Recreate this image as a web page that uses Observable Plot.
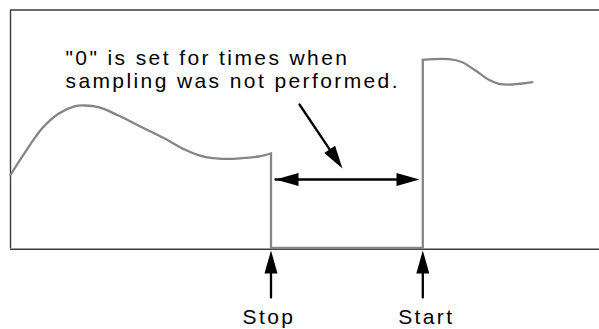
<!DOCTYPE html>
<html>
<head>
<meta charset="utf-8">
<script src="https://cdn.jsdelivr.net/npm/d3@7"></script>
<script src="https://cdn.jsdelivr.net/npm/@observablehq/plot@0.6"></script>
<style>
  html, body { margin: 0; padding: 0; background: #fff; }
  #chart svg { display: block; }
</style>
</head>
<body>
<div id="chart"></div>
<script>
// ---- data (time in arbitrary units, value in arbitrary units) ----
const time  = [0, 1.47, 3.13, 4.8, 6.47, 7.47, 8.8, 10.8, 13.13, 15.47, 17.47, 19.13, 21.13, 23.13, 24.8, 26.05,
               26.05, 41.23,
               41.23, 43.83, 45.17, 46.5, 47.83, 48.83, 50.17, 52.17];
const value = [36.5, 47.9, 59.6, 67.1, 70.9, 71.25, 70.4, 66.25, 60.4, 54.6, 49.1, 45.9, 44.6, 44.9, 45.75, 47.25,
               0, 0,
               94.1, 94.4, 92.9, 88.75, 84.1, 82.1, 81.75, 82.9];
const stopTime = 26.05;
const startTime = 41.23;

const noteLines = ['"0" is set for times when', 'sampling was not performed.'];
const eventLabels = ["Stop", "Start"];
const eventTimes = [stopTime, startTime];

// annotation arrows (tail -> tip), in data units
const arrowX1 = [28.9, 26.5, 40.9, stopTime, startTime];
const arrowY1 = [71.75, 34.25, 34.25, -24.75, -24.75];
const arrowX2 = [33.2, 40.9, 26.5, stopTime, startTime];
const arrowY2 = [39.75, 34.25, 34.25, -1.25, -1.25];

const frameTop = 119;

// ---- build tables ----
const series = time.map((t, i) => ({t, v: value[i]}));
const before = series.filter(d => d.t <= stopTime && d.v > 0);
const after = series.filter(d => d.t >= startTime && d.v > 0);
const gap = series.filter(d => d.t >= stopTime && d.t <= startTime);

const xScale = {domain: [0, 58.9], range: [10, 599]};
const yScale = {domain: [0, frameTop], range: [247.5, 9.5]};
const sx = d3.scaleLinear().domain(xScale.domain).range(xScale.range);
const sy = d3.scaleLinear().domain(yScale.domain).range(yScale.range);

const arrows = arrowX1.map((x1, i) => ({x1, y1: arrowY1[i], x2: arrowX2[i], y2: arrowY2[i]}));
// shafts: the double arrow is drawn once (index 1), index 2 only supplies its second head
const shafts = arrows.filter((d, i) => i !== 2);
const heads = arrows.map(d => ({
  x: d.x2, y: d.y2,
  angle: Math.atan2(sx(d.x2) - sx(d.x1), -(sy(d.y2) - sy(d.y1))) * 180 / Math.PI
}));

const headSymbol = {
  draw(context) {
    const L = 23, W = 6.5;
    context.moveTo(0, 0);
    context.lineTo(-W, L);
    context.lineTo(W, L);
    context.closePath();
  }
};

const font = "'Liberation Sans', Arial, Helvetica, sans-serif";
const lineColor = "#858585";

const chart = Plot.plot({
  width: 599,
  height: 329,
  margin: 0,
  x: {...xScale, axis: null},
  y: {...yScale, axis: null},
  style: {background: "#fff", fontFamily: font, overflow: "visible", letterSpacing: "2.4px"},
  marks: [
    // frame
    Plot.ruleX([0], {y1: 0, y2: frameTop, stroke: "#3a3a3a", strokeWidth: 1.4, dy: 0.75}),
    Plot.ruleY([frameTop], {x1: 0, x2: 58.9, stroke: "#3a3a3a", strokeWidth: 1.4}),
    Plot.ruleY([0], {x1: 0, x2: 58.9, stroke: "#3a3a3a", strokeWidth: 1.4, dy: 1.2}),
    // data series
    Plot.line(before, {x: "t", y: "v", stroke: lineColor, strokeWidth: 2.3, curve: "catmull-rom"}),
    Plot.line(gap, {x: "t", y: "v", stroke: lineColor, strokeWidth: 2.3, curve: "linear", strokeLinejoin: "miter"}),
    Plot.line(after, {x: "t", y: "v", stroke: lineColor, strokeWidth: 2.3, curve: "catmull-rom"}),
    // annotation arrows
    Plot.arrow(shafts, {x1: "x1", y1: "y1", x2: "x2", y2: "y2", stroke: "#000", strokeWidth: 2.3,
      headLength: 0, insetEnd: 8, insetStart: 0}),
    Plot.dot(heads, {x: "x", y: "y", rotate: "angle", symbol: headSymbol, fill: "#000", stroke: "none", r: 5}),
    // texts
    Plot.text([noteLines.join("\n")], {x: 5.5, y: 80.25, text: d => d, textAnchor: "start", lineAnchor: "bottom",
      lineHeight: 1.05, fontSize: 21, fill: "#000"}),
    Plot.text([eventLabels[0]], {x: eventTimes[0], y: -37.75, text: d => d, textAnchor: "middle", lineAnchor: "bottom",
      fontSize: 21, fill: "#000", dx: -2}),
    Plot.text([eventLabels[1]], {x: eventTimes[1], y: -37.75, text: d => d, textAnchor: "middle", lineAnchor: "bottom",
      fontSize: 21, fill: "#000", dx: 3.5})
  ]
});
document.getElementById("chart").appendChild(chart);
</script>
</body>
</html>
